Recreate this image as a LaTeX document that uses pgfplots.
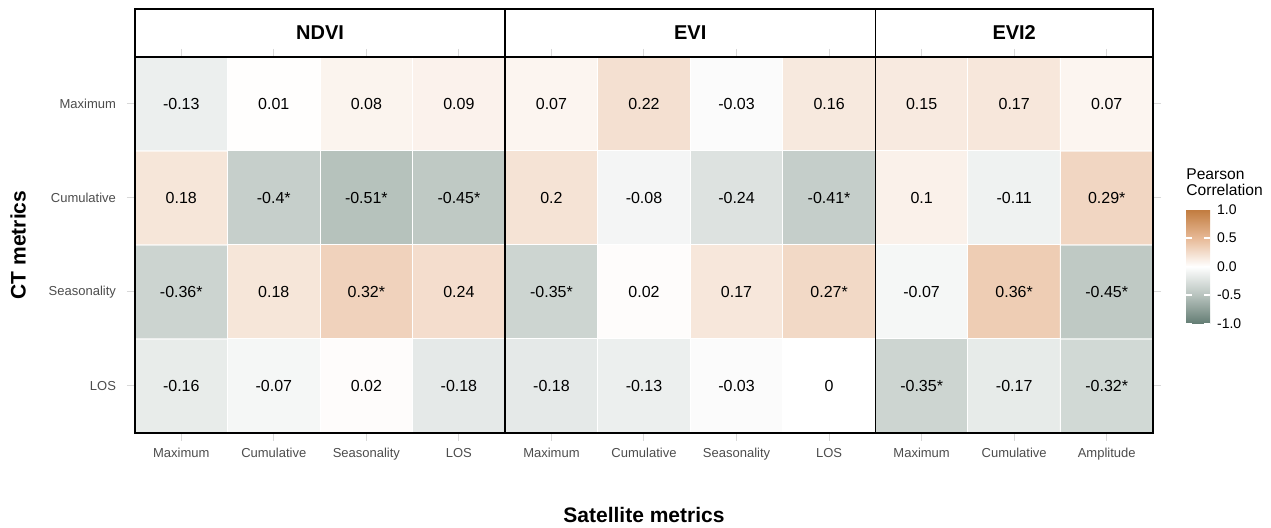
\documentclass[border=0pt]{standalone}
\usepackage{pgfplots}
\pgfplotsset{compat=1.18}
\usepackage{pgfplotstable}
\usepackage{fontspec}
\setmainfont{Liberation Sans}

\pgfplotstableread{
x y c lab
0 0 -0.16 -0.16
1 0 -0.07 -0.07
2 0 0.02 0.02
3 0 -0.18 -0.18
4 0 -0.18 -0.18
5 0 -0.13 -0.13
6 0 -0.03 -0.03
7 0 0 0
8 0 -0.35 -0.35*
9 0 -0.17 -0.17
10 0 -0.32 -0.32*
0 1 -0.36 -0.36*
1 1 0.18 0.18
2 1 0.32 0.32*
3 1 0.24 0.24
4 1 -0.35 -0.35*
5 1 0.02 0.02
6 1 0.17 0.17
7 1 0.27 0.27*
8 1 -0.07 -0.07
9 1 0.36 0.36*
10 1 -0.45 -0.45*
0 2 0.18 0.18
1 2 -0.4 -0.4*
2 2 -0.51 -0.51*
3 2 -0.45 -0.45*
4 2 0.2 0.2
5 2 -0.08 -0.08
6 2 -0.24 -0.24
7 2 -0.41 -0.41*
8 2 0.1 0.1
9 2 -0.11 -0.11
10 2 0.29 0.29*
0 3 -0.13 -0.13
1 3 0.01 0.01
2 3 0.08 0.08
3 3 0.09 0.09
4 3 0.07 0.07
5 3 0.22 0.22
6 3 -0.03 -0.03
7 3 0.16 0.16
8 3 0.15 0.15
9 3 0.17 0.17
10 3 0.07 0.07
}\data

\begin{document}
\begin{tikzpicture}
\useasboundingbox (0,0) rectangle (635.5pt,264pt);
\begin{axis}[
  at={(67.5pt,47.5pt)}, anchor=south west,
  scale only axis, width=509pt, height=188pt,
  xmin=-0.5, xmax=10.5, ymin=-0.5, ymax=3.5,
  enlargelimits=false, clip=false, axis on top,
  xtick={0,...,10},
  xticklabels={Maximum,Cumulative,Seasonality,LOS,Maximum,Cumulative,Seasonality,LOS,Maximum,Cumulative,Amplitude},
  ytick={0,1,2,3},
  yticklabels={LOS,Seasonality,Cumulative,Maximum},
  xticklabel pos=lower, yticklabel pos=left,
  xtick pos=both, ytick pos=both,
  tick align=outside, major tick length=4pt,
  tick style={draw=black!15, line width=0.5pt},
  ticklabel style={font=\fontsize{6.5}{8}\selectfont, text=black!70},
  yticklabel style={xshift=-2pt},
  axis line style={line width=0.75pt},
  colormap={corr}{rgb255=(100,125,116) rgb255=(184,195,190) rgb255=(255,255,255) rgb255=(231,185,150) rgb255=(193,123,62)},
  point meta min=-1, point meta max=1,
  colorbar,
  colorbar style={
    at={(parent axis.east)}, anchor=west, xshift=8pt, yshift=-10.75pt,
    scale only axis, width=12pt, height=57pt,
    ytick={-1,-0.5,0,0.5,1},
    yticklabels={-1.0,-0.5,0.0,0.5,1.0},
    yticklabel pos=right, ytick pos=both,
    yticklabel style={font=\fontsize{7}{8}\selectfont, text=black},
    tick align=inside, major tick length=3pt,
    tick style={draw=white, line width=0.6pt},
    axis line style={draw=none},
  },
  xlabel={Satellite metrics},
  ylabel={CT metrics},
  xlabel style={at={(axis description cs:0.5,-0.2181)}, anchor=center, font=\bfseries\fontsize{10.5}{12}\selectfont},
  ylabel style={at={(axis description cs:-0.1149,0.5)}, anchor=center, font=\bfseries\fontsize{10.5}{12}\selectfont},
]
\addplot[matrix plot*, mesh/cols=11, point meta=explicit, draw=white, line width=0.5pt]
  table[x=x, y=y, meta=c] {\data};
\addplot[only marks, mark=none, point meta=explicit symbolic,
  nodes near coords, nodes near coords align={center},
  every node near coord/.append style={anchor=center, font=\fontsize{8}{9}\selectfont, text=black}]
  table[x=x, y=y, meta=lab] {\data};
\draw[line width=0.75pt] (axis cs:-0.5,3.5) rectangle ([yshift=24pt]axis cs:10.5,3.5);
\draw[line width=0.75pt] (axis cs:3.5,-0.5) -- ([yshift=24pt]axis cs:3.5,3.5);
\draw[line width=0.75pt] (axis cs:7.5,-0.5) -- ([yshift=24pt]axis cs:7.5,3.5);
\node[font=\bfseries\fontsize{10}{12}\selectfont] at ([yshift=12pt]axis cs:1.5,3.5) {NDVI};
\node[font=\bfseries\fontsize{10}{12}\selectfont] at ([yshift=12pt]axis cs:5.5,3.5) {EVI};
\node[font=\bfseries\fontsize{10}{12}\selectfont] at ([yshift=12pt]axis cs:9,3.5) {EVI2};
\end{axis}
\node[anchor=west, align=left, inner sep=0pt, font=\fontsize{7.8}{8}\selectfont] at (593pt,173pt) {Pearson\\Correlation};
\end{tikzpicture}
\end{document}
